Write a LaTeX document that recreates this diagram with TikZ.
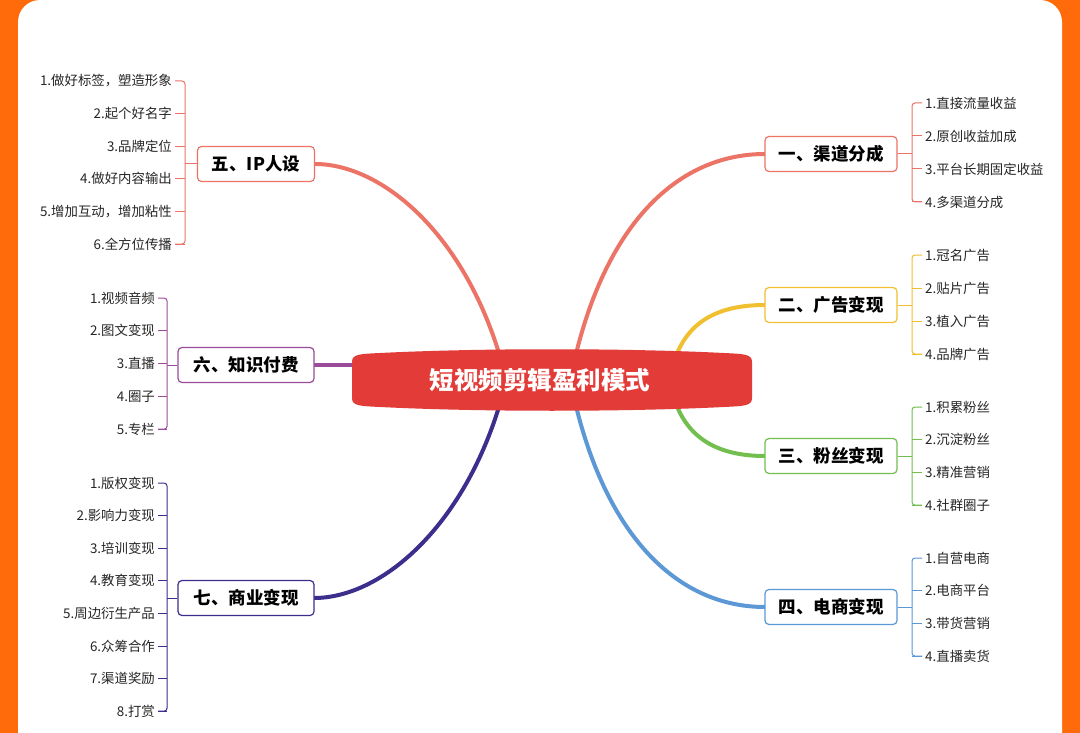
\documentclass[tikz,border=0pt]{standalone}
\usepackage{fontspec}
\setmainfont{Noto Sans CJK SC}
\usetikzlibrary{calc}
\definecolor{bordero}{HTML}{FF6A0A}
\definecolor{cred}{HTML}{E23B38}
\definecolor{csalmon}{HTML}{EC7466}
\definecolor{cyellow}{HTML}{F0C030}
\definecolor{cgreen}{HTML}{72BE4E}
\definecolor{cblue}{HTML}{5C98D6}
\definecolor{cpurple}{HTML}{9A4C9A}
\definecolor{cnavy}{HTML}{3B2E8C}
\tikzset{
  branchbox/.style={draw=#1, line width=1.2pt, rounded corners=4pt, fill=white,
    minimum height=35pt, inner xsep=8pt, font=\fontsize{17.5}{19}\selectfont\bfseries, text=black},
  leafR/.style={anchor=west, inner sep=3pt, font=\fontsize{13.4}{15}\selectfont, text=black!85},
  leafL/.style={anchor=east, inner sep=3pt, font=\fontsize{13.4}{15}\selectfont, text=black!85},
  limb/.style={draw=#1, line width=4pt, line cap=round},
  brace/.style={draw=#1, line width=1pt, rounded corners=3pt}
}
\begin{document}
\begin{tikzpicture}[x=1pt,y=-1pt]
    \useasboundingbox (0,0) rectangle (1080,733);
    \clip (0,0) rectangle (1080,733);
    % frame
    \fill [bordero] (0,0) rectangle (1080,733);
    \fill [white, rounded corners=22pt] (18,0) rectangle (1062,763);
    % limbs
    \coordinate (c1) at (577,350);
    \coordinate (c2) at (676,356);
    \coordinate (c3) at (676,404);
    \coordinate (c4) at (577,410);
    \coordinate (c5) at (498,350);
    \coordinate (c6) at (360,365);
    \coordinate (c7) at (498,410);
    \draw [limb=csalmon] (c1) .. controls (610,220) and (680,154) .. (765,154) coordinate (e1);
    \draw [limb=cyellow] (c2) .. controls (690,320) and (720,305) .. (765,305) coordinate (e2);
    \draw [limb=cgreen] (c3) .. controls (690,440) and (720,456) .. (765,456) coordinate (e3);
    \draw [limb=cblue] (c4) .. controls (610,540) and (680,607) .. (765,607) coordinate (e4);
    \draw [limb=csalmon] (c5) .. controls (460,230) and (380,164) .. (315,164) coordinate (e5);
    \draw [limb=cpurple] (c6) -- (314,365) coordinate (e6);
    \draw [limb=cnavy] (c7) .. controls (460,530) and (380,598) .. (314,598) coordinate (e7);
    \node [branchbox=csalmon, minimum width=132pt] (b1) at (831,154) {一、渠道分成};
    \node [branchbox=cyellow, minimum width=132pt] (b2) at (831,305) {二、广告变现};
    \node [branchbox=cgreen, minimum width=132pt] (b3) at (831,456) {三、粉丝变现};
    \node [branchbox=cblue, minimum width=132pt] (b4) at (831,607) {四、电商变现};
    \node [branchbox=csalmon, minimum width=117pt] (b5) at (256,164) {五、IP人设};
    \node [branchbox=cpurple, minimum width=136pt] (b6) at (246,365) {六、知识付费};
    \node [branchbox=cnavy, minimum width=136pt] (b7) at (246,598) {七、商业变现};
    % centre
    \fill [cred] (352,362) .. controls (352,354) and (360,354) .. (380,353)
      .. controls (480,348) and (624,348) .. (724,353)
      .. controls (744,354) and (752,354) .. (752,362) -- (752,398)
      .. controls (752,406) and (744,406) .. (724,407)
      .. controls (624,412) and (480,412) .. (380,407)
      .. controls (360,406) and (352,406) .. (352,398) -- cycle;
    \node [text=white, font=\fontsize{24.5}{27}\selectfont\bfseries] (centre) at (540,380) {短视频剪辑盈利模式};
    % leaves right
    \foreach \t [count=\i, evaluate=\i as \y using 103+33*(\i-1)] in {1.直接流量收益,2.原创收益加成,3.平台长期固定收益,4.多渠道分成}
      \node [leafR] (l1-\i) at (922,\y) {\t};
    \foreach \t [count=\i, evaluate=\i as \y using 255+33*(\i-1)] in {1.冠名广告,2.贴片广告,3.植入广告,4.品牌广告}
      \node [leafR] (l2-\i) at (922,\y) {\t};
    \foreach \t [count=\i, evaluate=\i as \y using 407+32.7*(\i-1)] in {1.积累粉丝,2.沉淀粉丝,3.精准营销,4.社群圈子}
      \node [leafR] (l3-\i) at (922,\y) {\t};
    \foreach \t [count=\i, evaluate=\i as \y using 558+32.7*(\i-1)] in {1.自营电商,2.电商平台,3.带货营销,4.直播卖货}
      \node [leafR] (l4-\i) at (922,\y) {\t};
    % leaves left
    \foreach \t [count=\i, evaluate=\i as \y using 81+32.6*(\i-1)] in {1.做好标签，塑造形象,2.起个好名字,3.品牌定位,4.做好内容输出,5.增加互动，增加粘性,6.全方位传播}
      \node [leafL] (l5-\i) at (175,\y) {\t};
    \foreach \t [count=\i, evaluate=\i as \y using 298+32.8*(\i-1)] in {1.视频音频,2.图文变现,3.直播,4.圈子,5.专栏}
      \node [leafL] (l6-\i) at (158,\y) {\t};
    \foreach \t [count=\i, evaluate=\i as \y using 483+32.6*(\i-1)] in {1.版权变现,2.影响力变现,3.培训变现,4.教育变现,5.周边衍生产品,6.众筹合作,7.渠道奖励,8.打赏}
      \node [leafL] (l7-\i) at (158,\y) {\t};
    % braces
    \foreach \b/\n/\c/\x/\s in {1/4/csalmon/912/east,2/4/cyellow/912/east,3/4/cgreen/912/east,4/4/cblue/912/east,
                               5/6/csalmon/185/west,6/5/cpurple/167/west,7/8/cnavy/167/west} {
      \pgfmathsetmacro\side{\b<5 ? "west" : "east"}
      \coordinate (k\b) at (b\b.\s -| \x,0);
      \draw [brace=\c] (l\b-1.\side) -| (k\b) |- (l\b-\n.\side);
      \draw [brace=\c] (b\b.\s) -- (k\b);
      \foreach \k in {2,...,\n}
        \draw [brace=\c] (l\b-\k.\side) -- (l\b-\k.\side -| k\b);
    }
\end{tikzpicture}
\end{document}
